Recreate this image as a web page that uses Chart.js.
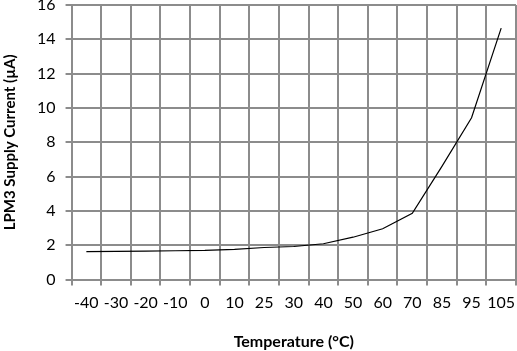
<!DOCTYPE html>
<html>
<head>
<meta charset="utf-8">
<script src="https://cdn.jsdelivr.net/npm/chart.js@4"></script>
<style>
  html, body { margin: 0; padding: 0; background: #fff; }
  #wrap { width: 517px; height: 351px; }
</style>
</head>
<body>
<div id="wrap"><canvas id="lineChart"></canvas></div>
<script>
// temperature categories (°C) and supply current (µA)
const temps = ['-40', '-30', '-20', '-10', '0', '10', '25', '30', '40', '50', '60', '70', '85', '95', '105'];
const currents = [1.63, 1.65, 1.66, 1.68, 1.70, 1.76, 1.87, 1.93, 2.09, 2.47, 2.96, 3.86, 6.6, 9.43, 14.65];
const yTicks = [0, 2, 4, 6, 8, 10, 12, 14, 16];

const gridColor = '#8c8c8c';

const ctx = document.getElementById('lineChart');
new Chart(ctx, {
  type: 'line',
  data: {
    labels: temps,
    datasets: [{
      label: 'LPM3 Supply Current',
      data: currents,
      borderColor: '#000000',
      borderWidth: 1.2,
      pointRadius: 0,
      tension: 0,
      fill: false
    }]
  },
  options: {
    responsive: true,
    maintainAspectRatio: false,
    animation: false,
    layout: { padding: { left: 1, right: 1, top: 5, bottom: 0 } },
    plugins: {
      legend: { display: false },
      tooltip: { enabled: false }
    },
    scales: {
      x: {
        type: 'category',
        offset: true,
        afterFit: function(scale) {
          // let the plot run right to the edge like the original
          scale.paddingLeft = 0;
          scale.paddingRight = 0;
        },
        grid: {
          offset: true,
          color: gridColor,
          lineWidth: 2,
          tickLength: 6,
          drawTicks: true
        },
        border: { color: gridColor, width: 2 },
        ticks: {
          color: '#000',
          padding: 8,
          maxRotation: 0,
          autoSkip: false,
          font: { family: 'Lato, sans-serif', size: 16 }
        },
        title: {
          display: true,
          text: 'Temperature (°C)',
          color: '#000',
          padding: { top: 11, bottom: 0 },
          font: { family: 'Lato, sans-serif', size: 16, weight: 'bold' }
        }
      },
      y: {
        min: 0,
        max: 16,
        afterBuildTicks: function(scale) {
          scale.ticks = yTicks.map(v => ({ value: v }));
        },
        afterFit: function(scale) {
          scale.paddingTop = 0;
          scale.paddingBottom = 0;
        },
        grid: {
          color: gridColor,
          lineWidth: 2,
          tickLength: 6
        },
        border: { color: gridColor, width: 2 },
        ticks: {
          color: '#000',
          padding: 10,
          font: { family: 'Lato, sans-serif', size: 16 }
        },
        title: {
          display: true,
          text: 'LPM3 Supply Current (µA)',
          color: '#000',
          padding: { top: 0, bottom: 8 },
          font: { family: 'Lato, sans-serif', size: 15, weight: 'bold' }
        }
      }
    }
  }
});
</script>
</body>
</html>
